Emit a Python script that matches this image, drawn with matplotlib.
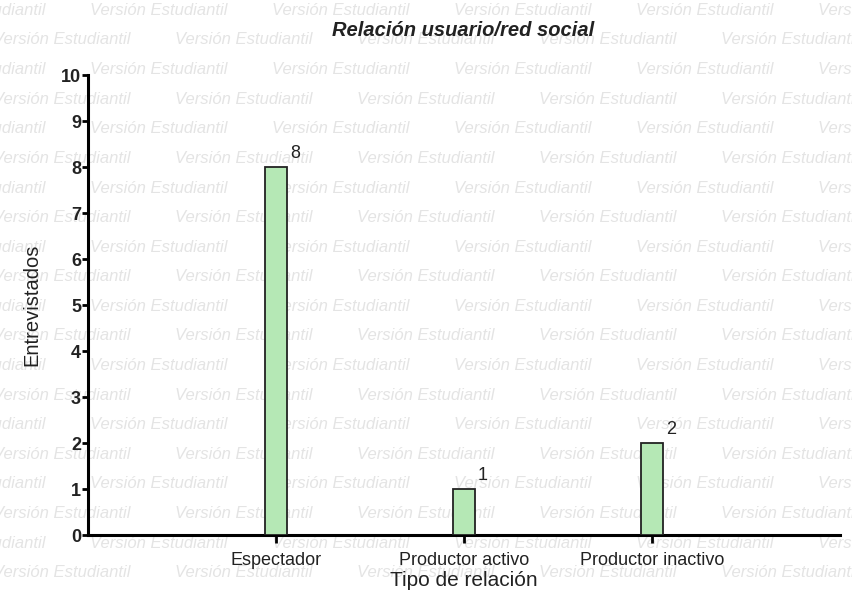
import matplotlib.pyplot as plt
import numpy as np

plt.rcParams['font.family'] = ['Liberation Sans', 'DejaVu Sans']

categories = ['Espectador', 'Productor activo', 'Productor inactivo']
values = [8, 1, 2]
y_ticks = list(range(0, 11))

fig = plt.figure(figsize=(8.53, 5.96), dpi=100)
W, H = 853, 596

# watermark rows behind everything
wm = 'Versión Estudiantil'
for i, y in enumerate(np.arange(10.4, 600, 29.6)):
    x0 = -7 if i % 2 == 1 else 90 - 182
    for x in np.arange(x0, W + 50, 182):
        fig.text(x / W, 1 - y / H, wm, fontsize=12, style='italic',
                 color='#e4e4e4', va='center', ha='left', zorder=-5)

ax = fig.add_axes([88 / W, 1 - 535 / H, (840 - 88) / W, (535 - 75) / H])
ax.patch.set_alpha(0)
ax.set_zorder(2)

x = np.arange(1, len(categories) + 1)
bars = ax.bar(x, values, width=0.12, color='#b5e8b5', edgecolor='#222222',
              linewidth=1.3, zorder=3)
for xi, v in zip(x, values):
    ax.text(xi + 0.1, v + 0.1, str(v), fontsize=13, ha='center', va='bottom',
            color='#222222')

ax.set_xlim(0, 4)
ax.set_ylim(0, 10)
ax.set_yticks(y_ticks)
ax.set_yticklabels([str(t) for t in y_ticks], fontweight='bold')
ax.set_xticks(x)
ax.set_xticklabels(categories)
ax.tick_params(axis='both', labelsize=13, width=2, length=6, color='black',
               labelcolor='#222222')
ax.tick_params(axis='x', pad=6)
ax.tick_params(axis='y', length=4, pad=1)
for s in ['top', 'right']:
    ax.spines[s].set_visible(False)
for s in ['left', 'bottom']:
    ax.spines[s].set_linewidth(2.2)

ax.set_ylabel('Entrevistados', fontsize=14.5, labelpad=14, color='#222222')
ax.set_xlabel('Tipo de relación', fontsize=15, labelpad=2, color='#222222')
title = fig.text(463 / W, 1 - 30 / H, 'Relación usuario/red social', fontsize=14.5,
                 fontweight='bold', style='italic', ha='center', va='center',
                 color='#222222')
title.set_zorder(5)

fig.savefig('out.png', dpi=100)
